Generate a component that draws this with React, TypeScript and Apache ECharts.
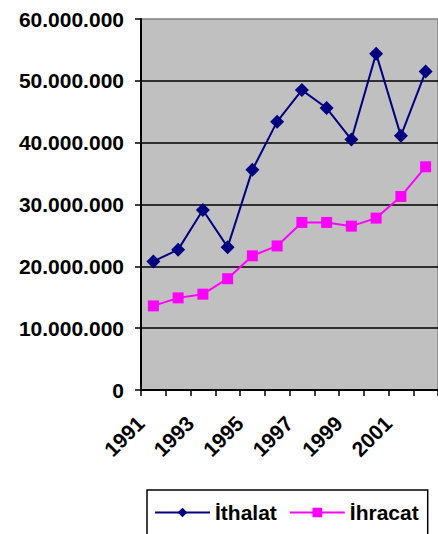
import React, { useEffect, useRef } from "react";
import * as echarts from "echarts";

// Years on the category axis
const years = ["1991", "1992", "1993", "1994", "1995", "1996", "1997", "1998", "1999", "2000", "2001", "2002"];

// Imports (İthalat) and exports (İhracat)
const ithalat = [20800000, 22700000, 29100000, 23100000, 35600000, 43400000, 48500000, 45600000, 40500000, 54400000, 41100000, 51500000];
const ihracat = [13600000, 14900000, 15500000, 18000000, 21700000, 23300000, 27100000, 27100000, 26500000, 27800000, 31300000, 36100000];

const yMin = 0;
const yMax = 60000000;
const yStep = 10000000;

const FONT = "'Liberation Sans', Arial, sans-serif";

function formatDots(v: number): string {
  return String(Math.round(v)).replace(/\B(?=(\d{3})+(?!\d))/g, ".");
}

export default function App() {
  const ref = useRef<HTMLDivElement>(null);

  useEffect(() => {
    if (!ref.current) return;
    const chart = echarts.init(ref.current, undefined, { renderer: "svg" });
    chart.setOption({
      animation: false,
      backgroundColor: "#ffffff",
      textStyle: { fontFamily: FONT },
      grid: {
        left: 141,
        top: 19,
        width: 302,
        height: 371,
        show: true,
        backgroundColor: "#C0C0C0",
        borderColor: "#808080",
        borderWidth: 1.5,
      },
      legend: {
        left: 147,
        top: 490,
        orient: "horizontal",
        backgroundColor: "#ffffff",
        borderColor: "#000000",
        borderWidth: 1.5,
        borderRadius: 0,
        padding: [12, 9, 30, 7],
        itemWidth: 55,
        itemHeight: 12,
        itemGap: 12,
        textStyle: { fontFamily: FONT, fontSize: 21, fontWeight: "bold", color: "#000" },
        data: ["İthalat", "İhracat"],
      },
      xAxis: {
        type: "category",
        data: years,
        boundaryGap: true,
        axisLine: { lineStyle: { color: "#000", width: 2 } },
        axisTick: { show: true, interval: 0, length: 6, lineStyle: { color: "#000", width: 1.5 } },
        axisLabel: {
          interval: 1,
          rotate: 45,
          margin: 17,
          color: "#000",
          fontFamily: FONT,
          fontSize: 21,
          fontWeight: "bold",
          padding: [0, 18, 0, 0],
        },
        splitLine: { show: false },
      },
      yAxis: {
        type: "value",
        min: yMin,
        max: yMax,
        interval: yStep,
        axisLine: { show: true, lineStyle: { color: "#000", width: 2 } },
        axisTick: { show: true, length: 6, lineStyle: { color: "#000", width: 1.5 } },
        axisLabel: {
          margin: 17,
          color: "#000",
          fontFamily: FONT,
          fontSize: 21,
          fontWeight: "bold",
          formatter: (v: number) => formatDots(v),
        },
        splitLine: {
          show: true,
          showMinLine: false,
          showMaxLine: false,
          lineStyle: { color: "#000", width: 1.5 },
        },
      },
      series: [
        {
          name: "İthalat",
          type: "line",
          data: ithalat,
          symbol: "diamond",
          symbolSize: 14,
          itemStyle: { color: "#000080" },
          lineStyle: { color: "#000080", width: 2 },
          z: 3,
        },
        {
          name: "İhracat",
          type: "line",
          data: ihracat,
          symbol: "rect",
          symbolSize: 11,
          itemStyle: { color: "#FF00FF" },
          lineStyle: { color: "#FF00FF", width: 2 },
          z: 2,
        },
      ],
    });
    return () => chart.dispose();
  }, []);

  return (
    <div
      ref={ref}
      style={{ position: "fixed", left: 0, top: 0, width: 438, height: 534, background: "#fff" }}
    />
  );
}
